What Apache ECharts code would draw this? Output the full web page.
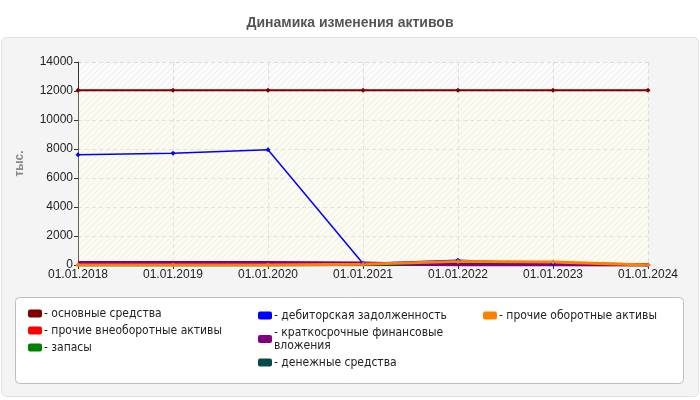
<!DOCTYPE html>
<html>
<head>
<meta charset="utf-8">
<script src="https://cdn.jsdelivr.net/npm/echarts@6/dist/echarts.min.js"></script>
<style>
html, body { margin: 0; padding: 0; background: #fff; }
#chart { width: 700px; height: 400px; }
</style>
</head>
<body>
<div id="chart"></div>
<script>
// даты (подписи оси X)
var dates = ['01.01.2018', '01.01.2019', '01.01.2020', '01.01.2021', '01.01.2022', '01.01.2023', '01.01.2024'];

// значения, тыс.
var osnovnye = [12050, 12050, 12050, 12050, 12050, 12050, 12050];
var prochieVneob = [0, 0, 0, 0, 0, 0, 0];
var zapasy = [0, 0, 0, 50, 130, 130, 0];
var debitorskaya = [7600, 7700, 7950, 100, 320, 80, 0];
var kratkosrochnye = [180, 180, 180, 130, 0, 0, 0];
var denezhnye = [20, 20, 20, 20, 60, 30, 0];
var prochieOborot = [0, 0, 0, 50, 250, 200, 0];

var yTicks = { min: 0, max: 14000, interval: 2000 };

var baseFont = '"Liberation Sans", Arial, sans-serif';
var legendFont = '"Liberation Sans Narrow", "DejaVu Sans Condensed", "Liberation Sans", sans-serif';

// штриховка фона области построения
function hatch() {
	var c = document.createElement('canvas');
	c.width = 6;
	c.height = 6;
	var ctx = c.getContext('2d');
	ctx.fillStyle = '#fbfbfb';
	ctx.fillRect(0, 0, 6, 6);
	ctx.strokeStyle = '#ececec';
	ctx.lineWidth = 1;
	ctx.beginPath();
	ctx.moveTo(0, 6); ctx.lineTo(6, 0);
	ctx.moveTo(-3, 3); ctx.lineTo(3, -3);
	ctx.moveTo(3, 9); ctx.lineTo(9, 3);
	ctx.stroke();
	return { image: c, repeat: 'repeat' };
}

function line(name, data, color, width, marks) {
	return {
		name: name,
		type: 'line',
		data: data,
		symbol: marks ? 'diamond' : 'none',
		symbolSize: 5,
		showSymbol: marks,
		lineStyle: { color: color, width: width },
		itemStyle: { color: color },
		animation: false
	};
}

function legendCol(left, top, names, gap) {
	return {
		orient: 'vertical',
		left: left,
		top: top,
		padding: 0,
		data: names,
		itemGap: gap,
		itemWidth: 14,
		itemHeight: 8,
		icon: 'roundRect',
		selectedMode: false,
		formatter: function(n) {
			return '- ' + n.replace('финансовые вложения', 'финансовые\nвложения');
		},
		textStyle: { fontSize: 12, color: '#222', fontFamily: legendFont, padding: [0, 0, 0, -3], lineHeight: 13 }
	};
}

var myChart = echarts.init(document.getElementById('chart'));
var first = line('основные средства', osnovnye, '#800000', 2, true);
first.areaStyle = { color: 'rgba(250,250,215,0.35)' };
var option = {
	backgroundColor: '#fff',
	title: {
		text: 'Динамика изменения активов',
		left: 'center',
		top: 11,
		textStyle: { fontSize: 14, fontWeight: 'bold', color: '#555', fontFamily: baseFont }
	},
	graphic: [
		{ type: 'rect', z: -10, shape: { x: 1.5, y: 37.5, width: 697, height: 359, r: 5 }, style: { fill: '#f4f4f4', stroke: '#e2e2e2', lineWidth: 1 } },
		{ type: 'rect', z: -9, shape: { x: 15.5, y: 297.5, width: 668, height: 86, r: 4 }, style: { fill: '#fff', stroke: '#bdbdbd', lineWidth: 1 } }
	],
	legend: [
		legendCol(28, 307, ['основные средства', 'прочие внеоборотные активы', 'запасы'], 4),
		legendCol(258, 309, ['дебиторская задолженность', 'краткосрочные финансовые вложения', 'денежные средства'], 4),
		legendCol(483, 309, ['прочие оборотные активы'], 4)
	],
	grid: {
		left: 78, right: 52, top: 62, bottom: 135,
		show: true,
		backgroundColor: hatch(),
		borderWidth: 0
	},
	xAxis: {
		type: 'category',
		data: dates,
		boundaryGap: false,
		axisLine: { lineStyle: { color: '#333', width: 1 } },
		axisTick: { show: true, alignWithLabel: true, length: 4, lineStyle: { color: '#333' } },
		axisLabel: { color: '#222', fontSize: 12, margin: 4, fontFamily: baseFont },
		splitLine: { show: true, lineStyle: { color: '#dcdcdc', type: [4, 3] } }
	},
	yAxis: {
		type: 'value',
		min: yTicks.min,
		max: yTicks.max,
		interval: yTicks.interval,
		name: 'тыс.',
		nameLocation: 'middle',
		nameGap: 52,
		nameTextStyle: { color: '#888', fontWeight: 'bold', fontSize: 12, fontFamily: baseFont },
		axisLine: { show: true, lineStyle: { color: '#333', width: 1 } },
		axisTick: { show: true, length: 4, lineStyle: { color: '#333' } },
		axisLabel: { color: '#222', fontSize: 12, margin: 5, fontFamily: baseFont, formatter: function(v) { return String(v); } },
		splitLine: { show: true, lineStyle: { color: '#dcdcdc', type: [4, 3] } }
	},
	series: [
		first,
		line('прочие внеоборотные активы', prochieVneob, '#ff0000', 2, false),
		line('запасы', zapasy, '#008000', 3, false),
		line('денежные средства', denezhnye, '#064a4a', 3, false),
		line('дебиторская задолженность', debitorskaya, '#0000ff', 1.5, true),
		line('краткосрочные финансовые вложения', kratkosrochnye, '#800080', 3, false),
		line('прочие оборотные активы', prochieOborot, '#ff8000', 3, true)
	]
};
myChart.setOption(option);
</script>
</body>
</html>
